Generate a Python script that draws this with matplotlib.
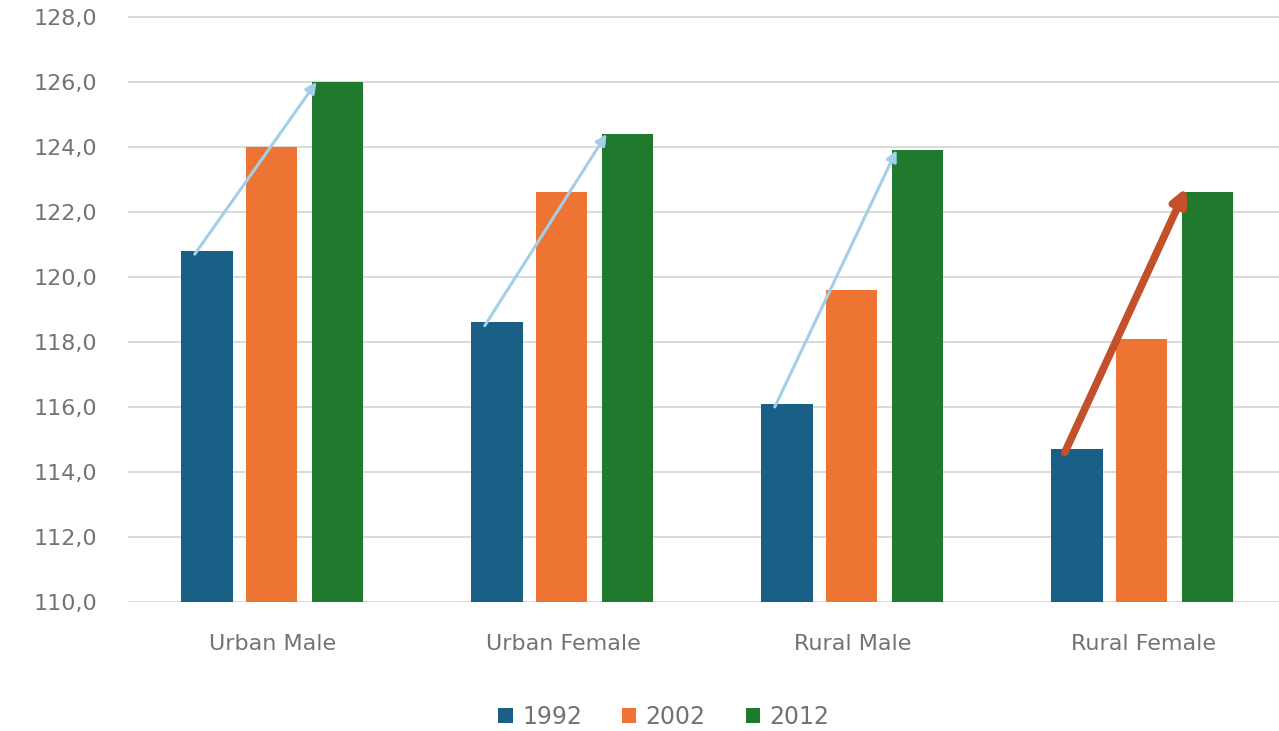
import matplotlib
matplotlib.use("Agg")
import matplotlib.pyplot as plt
import numpy as np

categories = ["Urban Male", "Urban Female", "Rural Male", "Rural Female"]
series_names = ["1992", "2002", "2012"]
v1992 = [120.8, 118.6, 116.1, 114.7]
v2002 = [124.0, 122.6, 119.6, 118.1]
v2012 = [126.0, 124.4, 123.9, 122.6]
yticks = [110, 112, 114, 116, 118, 120, 122, 124, 126, 128]

colors = ["#195f86", "#ee7433", "#1f7a2e"]
text_color = "#737373"

plt.rcParams['font.family'] = ['DejaVu Sans']

fig = plt.figure(figsize=(12.79, 7.31), dpi=100)
ax = fig.add_axes([0.1001, 0.1765, 0.907, 0.8235])

x = np.arange(len(categories))
width = 0.178
offs = [-0.228, -0.005, 0.222]
for vals, off, c, name in zip([v1992, v2002, v2012], offs, colors, series_names):
    ax.bar(x + off, np.array(vals) - 110, bottom=110, width=width, color=c,
           label=name, zorder=3)

ax.set_xlim(-0.5, 3.5)
ax.set_ylim(110, 128.52)
ax.set_yticks(yticks)
ax.set_yticklabels([f"{t:.1f}".replace(".", ",") for t in yticks])
ax.set_xticks(x)
ax.set_xticklabels(categories)
ax.grid(axis='y', color="#d9d9d9", linewidth=1.4, zorder=0)
ax.set_axisbelow(True)
for s in ax.spines.values():
    s.set_visible(False)
ax.tick_params(axis='both', length=0, colors=text_color, labelsize=16)
ax.tick_params(axis='y', pad=22)
ax.tick_params(axis='x', pad=23)

# trend arrows from 1992 to 2012
arrow_colors = ["#a3cfe8", "#a3cfe8", "#a3cfe8", "#c2502a"]
arrow_widths = [2.2, 2.2, 2.2, 5.5]
for i in range(len(categories)):
    ax.annotate("", xy=(i + 0.15, v2012[i] + (0.15 if i == 3 else 0.0)),
                xytext=(i - 0.27, v1992[i] - 0.1),
                arrowprops=dict(arrowstyle="-|>", color=arrow_colors[i],
                                lw=arrow_widths[i],
                                mutation_scale=16 if i < 3 else 22,
                                shrinkA=0, shrinkB=0),
                zorder=5)

leg = fig.legend(loc='center', bbox_to_anchor=(0.519, 0.019), ncol=3, frameon=False,
                 handlelength=0.6, handleheight=0.6, handletextpad=0.4,
                 columnspacing=1.7, fontsize=17)
for t in leg.get_texts():
    t.set_color(text_color)

fig.savefig("out.png", dpi=100)
